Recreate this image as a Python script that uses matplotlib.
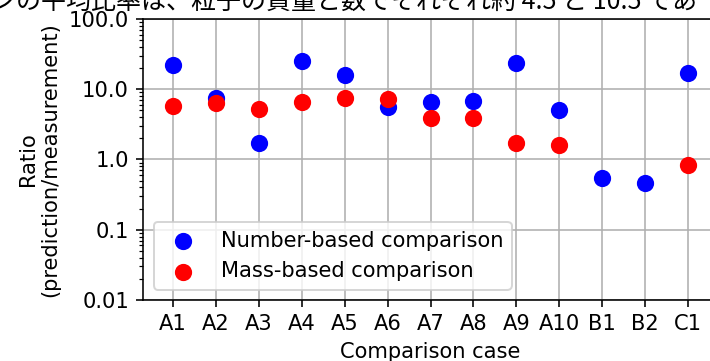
import numpy as np
import matplotlib
matplotlib.use("Agg")
import matplotlib.pyplot as plt

# 比較ケース
cases = ['A1', 'A2', 'A3', 'A4', 'A5', 'A6', 'A7', 'A8', 'A9', 'A10', 'B1', 'B2', 'C1']

# 予測/測定 比率 (粒子数ベース, 質量ベース)
number_ratio = [22.0, 7.4, 1.7, 25.5, 16.0, 5.5, 6.6, 6.7, 23.5, 5.0, 0.55, 0.46, 17.0]
mass_ratio = [5.8, 6.4, 5.3, 6.6, 7.6, 7.3, 3.9, 3.9, 1.7, 1.6, np.nan, np.nan, 0.83]

ytick_values = [0.01, 0.1, 1.0, 10.0, 100.0]
ytick_labels = ['0.01', '0.1', '1.0', '10.0', '100.0']

top_text = 'ンの平均比率は、粒子の質量と数でそれぞれ約 4.5 と 10.5 であ'

plt.rcParams['font.size'] = 10.5

DPI = 144
fig = plt.figure(figsize=(710 / DPI, 361 / DPI), dpi=DPI)
ax = fig.add_axes([143 / 710, 1 - 300 / 361, 575 / 710, 281 / 361])

x = np.arange(len(cases))
ax.scatter(x, number_ratio, s=58, color='blue', label='Number-based comparison', zorder=3)
ax.scatter(x, mass_ratio, s=58, color='red', label='Mass-based comparison', zorder=3)

ax.set_yscale('log')
ax.set_ylim(0.01, 100)
ax.set_yticks(ytick_values)
ax.set_yticklabels(ytick_labels)
ax.set_xticks(x)
ax.set_xticklabels(cases)
ax.set_xlim(-0.7, len(cases) - 0.3)

ax.grid(True, which='major')
ax.set_axisbelow(True)

ax.set_xlabel('Comparison case')
ax.set_ylabel('Ratio\n(prediction/measurement)')
ax.legend(loc='lower left')

# 上部の文書テキスト (切れている)
fig.text(-0.012, 1 - 9 / 361, top_text, fontsize=12.5, va='baseline', ha='left',
         family=['Noto Sans CJK JP', 'DejaVu Sans'])

fig.savefig('out.png', dpi=DPI)
